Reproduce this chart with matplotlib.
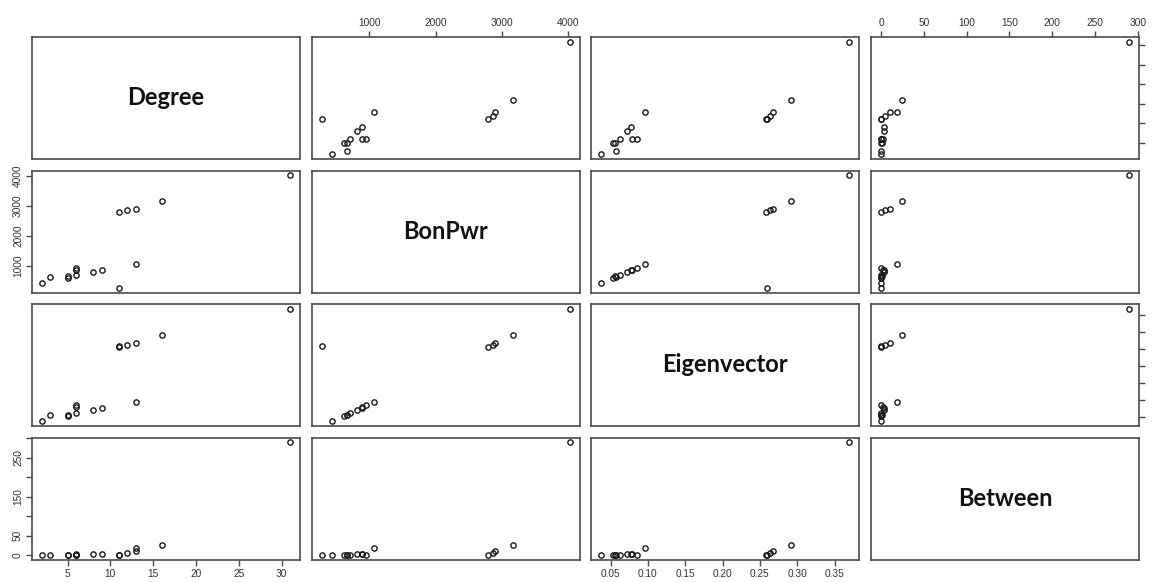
import numpy as np
import matplotlib
matplotlib.use("Agg")
import matplotlib.pyplot as plt

# centrality measures for 16 nodes
names = ["Degree", "BonPwr", "Eigenvector", "Between"]
degree = [2, 3, 5, 5, 6, 6, 6, 8, 9, 11, 11, 12, 13, 13, 16, 31]
bonpwr = [437, 653, 612, 663, 698, 890, 945, 814, 880, 276, 2790, 2866, 1065, 2896, 3178, 4030]
eigenvector = [0.0376, 0.0576, 0.053, 0.056, 0.062, 0.079, 0.085, 0.072, 0.078,
               0.259, 0.258, 0.264, 0.096, 0.268, 0.292, 0.370]
between = [0, 0, 0, 1, 0, 2, 0, 3, 3, 0, 0, 5, 19, 10, 25, 290]

ticks = {
    "Degree": [5, 10, 15, 20, 25, 30],
    "BonPwr": [1000, 2000, 3000, 4000],
    "Eigenvector": [0.05, 0.10, 0.15, 0.20, 0.25, 0.30, 0.35],
    "Between": [0, 50, 100, 150, 200, 250, 300],
}
left_labels = {
    "BonPwr": ["1000", "2000", "3000", "4000"],
    "Between": ["0", "50", "", "150", "", "250", ""],
}

data = {"Degree": degree, "BonPwr": bonpwr, "Eigenvector": eigenvector, "Between": between}

W, H = 1153, 582
fig = plt.figure(figsize=(W / 100, H / 100), dpi=100)
plt.rcParams["font.family"] = ["Liberation Sans", "DejaVu Sans"]

box_col = "#4a4a4a"
txt_col = "#333333"


def lims(v):
    lo, hi = min(v), max(v)
    pad = (hi - lo) * 0.04
    return lo - pad, hi + pad


n = len(names)
for i in range(n):
    for j in range(n):
        left = 32 + j * 279.7
        top = 37 + i * 133.5
        ax = fig.add_axes([left / W, 1 - (top + 122) / H, 268 / W, 122 / H])
        xname, yname = names[j], names[i]
        ax.set_xlim(*lims(data[xname]))
        ax.set_ylim(*lims(data[yname]))
        for s in ax.spines.values():
            s.set_color(box_col)
            s.set_linewidth(1.2)
        ax.set_xticks([])
        ax.set_yticks([])
        if i == j:
            ax.text(0.5, 0.5, xname, transform=ax.transAxes, ha="center", va="center",
                    fontsize=17, fontweight="bold", family=["Lato", "DejaVu Sans"], color="#111111")
        else:
            ax.plot(data[xname], data[yname], "o", ms=3.8, mfc="none", mec="#1a1a1a", mew=1.0)

        tp = dict(colors=box_col, labelcolor=txt_col, labelsize=7.3, length=4.5, width=1.0)
        # R pairs() style alternating axes
        if i == 0 and j % 2 == 1:
            ax.set_xticks(ticks[xname])
            ax.xaxis.set_ticks_position("top")
            ax.set_xticklabels([f"{t:g}" for t in ticks[xname]])
            ax.tick_params(axis="x", pad=2, **tp)
        if i == n - 1 and j % 2 == 0:
            ax.set_xticks(ticks[xname])
            if xname == "Eigenvector":
                ax.set_xticklabels([f"{t:.2f}" for t in ticks[xname]])
            ax.tick_params(axis="x", pad=2, **tp)
        if j == 0 and i % 2 == 1:
            ax.set_yticks(ticks[yname])
            ax.set_yticklabels(left_labels[yname], rotation=90, va="center")
            ax.tick_params(axis="y", pad=2, **tp)
        if j == n - 1 and i % 2 == 0:
            ax.set_yticks(ticks[yname])
            ax.yaxis.set_ticks_position("right")
            ax.set_yticklabels([])
            ax.tick_params(axis="y", **tp)

fig.savefig("out.png", dpi=100)
